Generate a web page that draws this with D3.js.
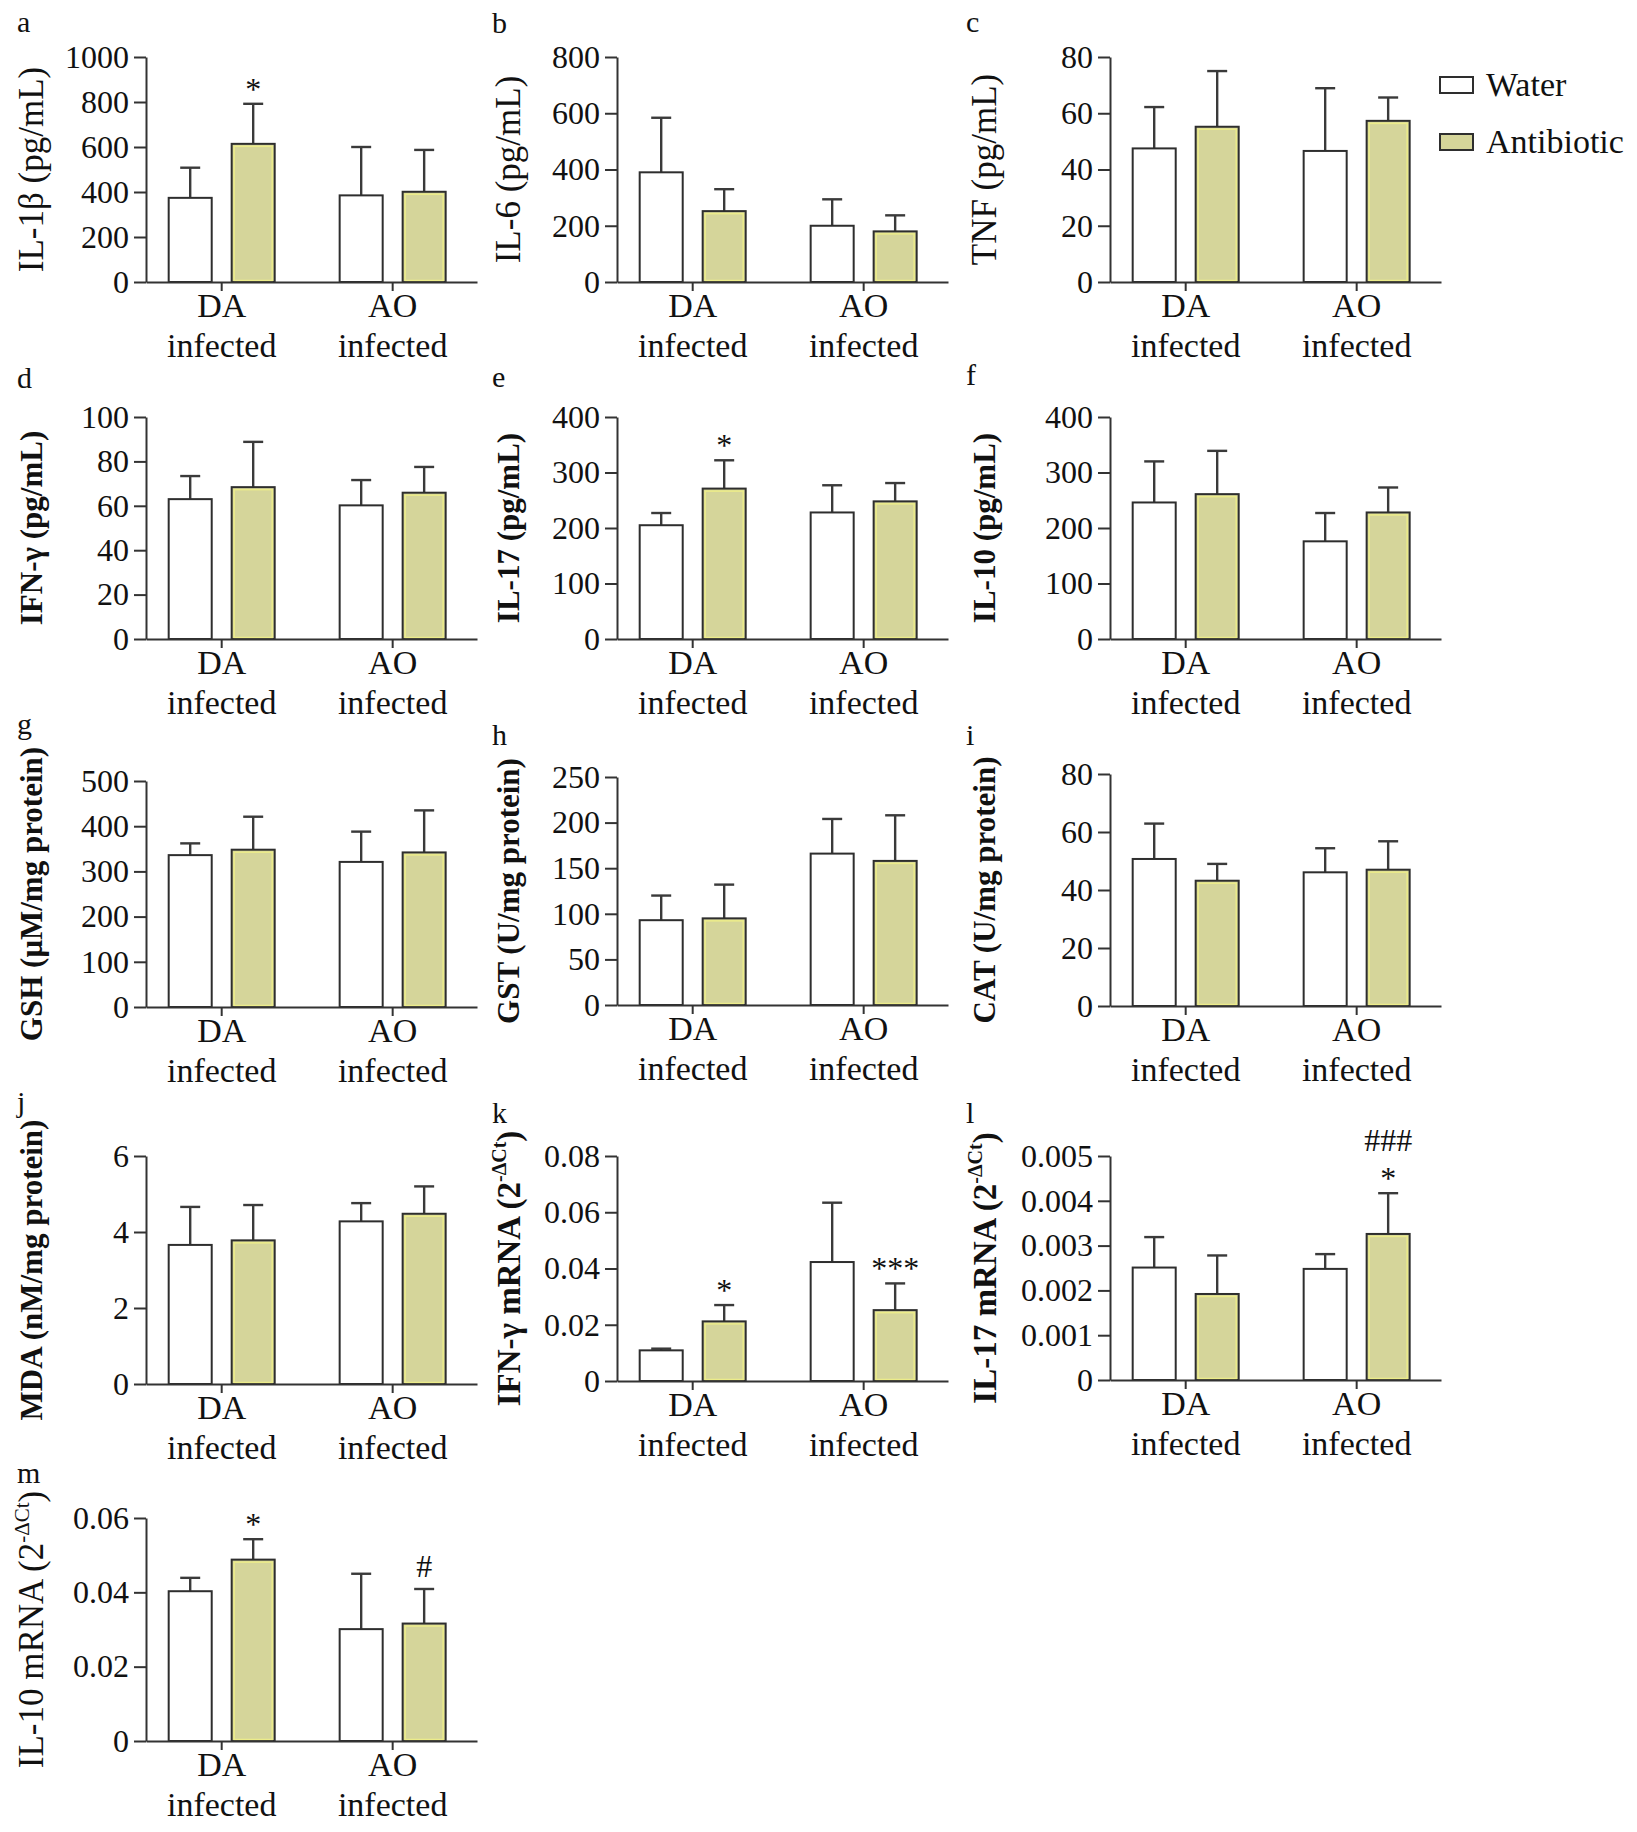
<!DOCTYPE html>
<html>
<head>
<meta charset="utf-8">
<script src="https://cdn.jsdelivr.net/npm/d3@7"></script>
<style>
  body { margin: 0; background: #fff; }
  svg text { font-family: "Liberation Serif", "Times New Roman", serif; fill: #111; }
</style>
</head>
<body>
<div id="chart"></div>
<script>
"use strict";

// groups and series, in drawing order
var categories = ["DA infected", "AO infected"];
var seriesNames = ["Water", "Antibiotic"];

// values per bar: DA water, DA antibiotic, AO water, AO antibiotic
var il1bMean = [374, 614, 385, 401];
var il1bSd = [134, 178, 215, 186];
var il1bTicks = [0, 200, 400, 600, 800, 1000];

var il6Mean = [390, 252, 200, 180];
var il6Sd = [194, 78, 94, 57];
var il6Ticks = [0, 200, 400, 600, 800];

var tnfMean = [47.5, 55.2, 46.6, 57.3];
var tnfSd = [14.7, 19.8, 22.3, 8.3];
var tnfTicks = [0, 20, 40, 60, 80];

var ifngMean = [63.0, 68.4, 60.2, 65.9];
var ifngSd = [10.4, 20.4, 11.4, 11.6];
var ifngTicks = [0, 20, 40, 60, 80, 100];

var il17Mean = [205, 271, 228, 248];
var il17Sd = [22, 51, 49, 33];
var il17Ticks = [0, 100, 200, 300, 400];

var il10Mean = [246, 261, 176, 228];
var il10Sd = [74, 78, 51, 45];
var il10Ticks = [0, 100, 200, 300, 400];

var gshMean = [336, 348, 321, 342];
var gshSd = [26, 73, 67, 93];
var gshTicks = [0, 100, 200, 300, 400, 500];

var gstMean = [93, 95, 166, 158];
var gstSd = [27, 37, 38, 50];
var gstTicks = [0, 50, 100, 150, 200, 250];

var catMean = [50.7, 43.2, 46.1, 47.0];
var catSd = [12.2, 5.8, 8.3, 9.8];
var catTicks = [0, 20, 40, 60, 80];

var mdaMean = [3.66, 3.78, 4.28, 4.48];
var mdaSd = [1.0, 0.93, 0.48, 0.72];
var mdaTicks = [0, 2, 4, 6];

var ifngMrnaMean = [0.0109, 0.0212, 0.0423, 0.0252];
var ifngMrnaSd = [0.0006, 0.0058, 0.0211, 0.0095];
var ifngMrnaTicks = [0, 0.02, 0.04, 0.06, 0.08];

var il17MrnaMean = [0.00251, 0.00192, 0.00248, 0.00326];
var il17MrnaSd = [0.00068, 0.00086, 0.00033, 0.00091];
var il17MrnaTicks = [0, 0.001, 0.002, 0.003, 0.004, 0.005];

var il10MrnaMean = [0.0403, 0.0488, 0.0301, 0.0316];
var il10MrnaSd = [0.0036, 0.0055, 0.0149, 0.0093];
var il10MrnaTicks = [0, 0.02, 0.04, 0.06];

// significance marks above bars (bottom line first)
var noMarks = [[], [], [], []];
var il1bMarks = [[], ["*"], [], []];
var il17Marks = [[], ["*"], [], []];
var ifngMrnaMarks = [[], ["*"], [], ["***"]];
var il17MrnaMarks = [[], [], [], ["*", "###"]];
var il10MrnaMarks = [[], ["*"], [], ["#"]];

var mrnaUnit = [["(2", false], ["-ΔCt", true], [")", false]];

var panels = [
    {key: "a", label: [["IL-1β (pg/mL)", false]], mean: il1bMean, sd: il1bSd, ticks: il1bTicks, marks: il1bMarks},
    {key: "b", label: [["IL-6 (pg/mL)", false]], mean: il6Mean, sd: il6Sd, ticks: il6Ticks, marks: noMarks},
    {key: "c", label: [["TNF (pg/mL)", false]], mean: tnfMean, sd: tnfSd, ticks: tnfTicks, marks: noMarks},
    {key: "d", label: [["IFN-γ (pg/mL)", false]], mean: ifngMean, sd: ifngSd, ticks: ifngTicks, marks: noMarks},
    {key: "e", label: [["IL-17 (pg/mL)", false]], mean: il17Mean, sd: il17Sd, ticks: il17Ticks, marks: il17Marks},
    {key: "f", label: [["IL-10 (pg/mL)", false]], mean: il10Mean, sd: il10Sd, ticks: il10Ticks, marks: noMarks},
    {key: "g", label: [["GSH (μM/mg protein)", false]], mean: gshMean, sd: gshSd, ticks: gshTicks, marks: noMarks},
    {key: "h", label: [["GST (U/mg protein)", false]], mean: gstMean, sd: gstSd, ticks: gstTicks, marks: noMarks},
    {key: "i", label: [["CAT (U/mg protein)", false]], mean: catMean, sd: catSd, ticks: catTicks, marks: noMarks},
    {key: "j", label: [["MDA (nM/mg protein)", false]], mean: mdaMean, sd: mdaSd, ticks: mdaTicks, marks: noMarks},
    {key: "k", label: [["IFN-γ mRNA ", false]].concat(mrnaUnit), mean: ifngMrnaMean, sd: ifngMrnaSd, ticks: ifngMrnaTicks, marks: ifngMrnaMarks},
    {key: "l", label: [["IL-17 mRNA ", false]].concat(mrnaUnit), mean: il17MrnaMean, sd: il17MrnaSd, ticks: il17MrnaTicks, marks: il17MrnaMarks},
    {key: "m", label: [["IL-10 mRNA ", false]].concat(mrnaUnit), mean: il10MrnaMean, sd: il10MrnaSd, ticks: il10MrnaTicks, marks: il10MrnaMarks}
];

//Where each panel sits on the page.
var colAxisX = [146, 617, 1110],
        colLetterX = [17, 492, 966],
        colLabelX = [31, 508, 984];
var layout = {
    a: {col: 0, top: 57, base: 282, letterY: 32, bold: false, size: 35},
    b: {col: 1, top: 57, base: 282, letterY: 33, bold: false, size: 35},
    c: {col: 2, top: 57, base: 282, letterY: 32, bold: false, size: 35},
    d: {col: 0, top: 417, base: 639, letterY: 388, bold: true, size: 31},
    e: {col: 1, top: 417, base: 639, letterY: 387, bold: true, size: 31},
    f: {col: 2, top: 417, base: 639, letterY: 385, bold: true, size: 31},
    g: {col: 0, top: 781, base: 1007, letterY: 734, bold: true, size: 31},
    h: {col: 1, top: 777, base: 1005, letterY: 745, bold: true, size: 31},
    i: {col: 2, top: 774, base: 1006, letterY: 745, bold: true, size: 31},
    j: {col: 0, top: 1156, base: 1384, letterY: 1112, bold: true, size: 31},
    k: {col: 1, top: 1156, base: 1381, letterY: 1123, bold: true, size: 33},
    l: {col: 2, top: 1156, base: 1380, letterY: 1123, bold: true, size: 33},
    m: {col: 0, top: 1518, base: 1741, letterY: 1483, bold: false, size: 35}
};

var width = 1637, height = 1832;
var plotW = 331;
var axisColor = "#333";

var svg = d3.select("#chart")
        .append("svg")
        .attr("width", width)
        .attr("height", height);

svg.append("rect").attr("width", width).attr("height", height).attr("fill", "#fff");

var x0 = d3.scaleBand()
        .domain(categories)
        .range([0, plotW])
        .paddingInner(0.38)
        .paddingOuter(0.158)
        .align(0.42);
var x1 = d3.scaleBand()
        .domain(seriesNames)
        .range([0, x0.bandwidth()])
        .paddingInner(0.317);
var fill = d3.scaleOrdinal()
        .domain(seriesNames)
        .range(["#ffffff", "#d5d59a"]);

panels.forEach(function (p) {
    var L = layout[p.key];
    var ax = colAxisX[L.col];
    var g = svg.append("g")
            .attr("class", "panel")
            .attr("transform", "translate(" + ax + ",0)");

    var y = d3.scaleLinear()
            .domain([0, p.ticks[p.ticks.length - 1]])
            .range([L.base, L.top]);

    //bars, one record per group/series
    var rows = [];
    categories.forEach(function (c, i) {
        seriesNames.forEach(function (s, j) {
            var k = i * seriesNames.length + j;
            rows.push({cat: c, ser: s, mean: p.mean[k], sd: p.sd[k], marks: p.marks[k]});
        });
    });
    var bx = function (d) {
        return x0(d.cat) + x1(d.ser);
    };
    var bw = x1.bandwidth();

    //error bars (upper only)
    var eb = g.selectAll(".err").data(rows).enter().append("g").attr("class", "err")
            .attr("stroke", "#3a3a3a").attr("stroke-width", 2.4);
    eb.append("line")
            .attr("x1", function (d) { return bx(d) + bw / 2; })
            .attr("x2", function (d) { return bx(d) + bw / 2; })
            .attr("y1", function (d) { return y(d.mean); })
            .attr("y2", function (d) { return y(d.mean + d.sd); });
    eb.append("line")
            .attr("x1", function (d) { return bx(d) + bw / 2 - 10; })
            .attr("x2", function (d) { return bx(d) + bw / 2 + 10; })
            .attr("y1", function (d) { return y(d.mean + d.sd); })
            .attr("y2", function (d) { return y(d.mean + d.sd); });

    g.selectAll(".bar").data(rows).enter().append("rect")
            .attr("class", "bar")
            .attr("x", bx)
            .attr("width", bw)
            .attr("y", function (d) { return y(d.mean); })
            .attr("height", function (d) { return y(0) - y(d.mean); })
            .attr("fill", function (d) { return fill(d.ser); })
            .attr("stroke", "#2e2e2e")
            .attr("stroke-width", 2);

    //thin yellow rim inside the antibiotic bars
    g.selectAll(".rim").data(rows.filter(function (d) { return d.ser === "Antibiotic"; }))
            .enter().append("rect")
            .attr("class", "rim")
            .attr("x", function (d) { return bx(d) + 2.5; })
            .attr("width", bw - 5)
            .attr("y", function (d) { return y(d.mean) + 2.5; })
            .attr("height", function (d) { return Math.max(0, y(0) - y(d.mean) - 4); })
            .attr("fill", "none")
            .attr("stroke", "#ecec8a")
            .attr("stroke-width", 1.5);

    //significance marks
    rows.forEach(function (d) {
        var top = y(d.mean + d.sd);
        d.marks.forEach(function (m, i) {
            var off = (m.charAt(0) === "*" ? 4 : 12) + i * 30;
            g.append("text")
                    .attr("x", bx(d) + bw / 2)
                    .attr("y", top - off)
                    .attr("text-anchor", "middle")
                    .style("font-size", "32px")
                    .text(m);
        });
    });

    //y axis
    var yAxis = g.append("g")
            .call(d3.axisLeft(y)
                    .tickValues(p.ticks)
                    .tickSize(12)
                    .tickSizeOuter(0)
                    .tickFormat(function (d) { return String(d); }));
    yAxis.selectAll("path, line").attr("stroke", axisColor).attr("stroke-width", 2);
    yAxis.selectAll("text")
            .attr("x", -17)
            .style("font-size", "32px")
            .style("font-family", "'Liberation Serif', serif")
            .attr("fill", "#111");

    //x axis
    var xAxis = g.append("g")
            .attr("transform", "translate(0," + y(0) + ")")
            .call(d3.axisBottom(x0).tickSize(9).tickSizeOuter(0).tickFormat(""));
    xAxis.selectAll("path, line").attr("stroke", axisColor).attr("stroke-width", 2);

    categories.forEach(function (c) {
        var words = c.split(" ");
        var cx = x0(c) + x0.bandwidth() / 2;
        words.forEach(function (w, i) {
            g.append("text")
                    .attr("x", cx)
                    .attr("y", y(0) + 35 + i * 40)
                    .attr("text-anchor", "middle")
                    .style("font-size", "34px")
                    .text(w);
        });
    });

    //y axis title, rotated
    var title = svg.append("text")
            .attr("transform", "translate(" + colLabelX[L.col] + "," + ((L.top + L.base) / 2) + ") rotate(-90)")
            .attr("text-anchor", "middle")
            .attr("dy", "0.35em")
            .style("font-size", L.size + "px")
            .style("font-weight", L.bold ? "bold" : "normal");
    p.label.forEach(function (part, i) {
        var t = title.append("tspan").text(part[0]);
        if (part[1]) {
            t.attr("dy", -14).style("font-size", Math.round(L.size * 0.6) + "px");
        } else if (i > 0 && p.label[i - 1][1]) {
            t.attr("dy", 14);
        }
    });

    //panel letter
    svg.append("text")
            .attr("x", colLetterX[L.col])
            .attr("y", L.letterY)
            .style("font-size", "30px")
            .text(p.key);
});

//legend
var legend = svg.append("g").attr("class", "legend");
seriesNames.forEach(function (s, i) {
    var ly = 77 + i * 57;
    legend.append("rect")
            .attr("x", 1440)
            .attr("y", ly)
            .attr("width", 33)
            .attr("height", 16)
            .attr("fill", fill(s))
            .attr("stroke", "#2e2e2e")
            .attr("stroke-width", 2);
    legend.append("text")
            .attr("x", 1486)
            .attr("y", ly + 19)
            .style("font-size", "34px")
            .text(s);
});
</script>
</body>
</html>
